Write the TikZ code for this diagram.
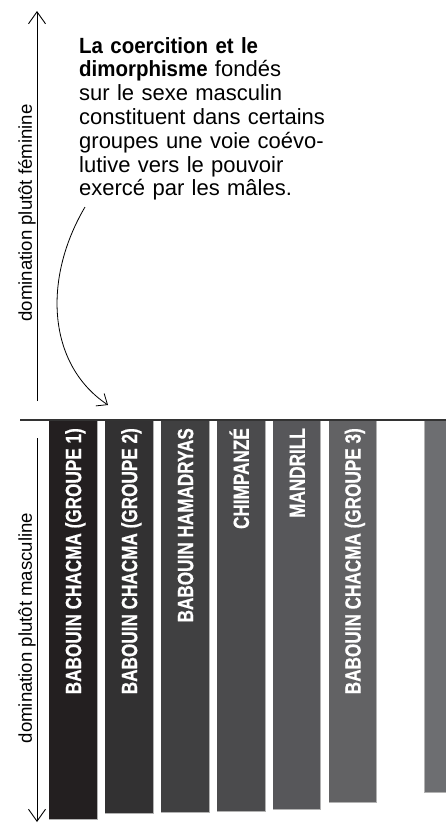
\documentclass[tikz,border=0pt]{standalone}
\usepackage{fontspec}
\setmainfont{Liberation Sans}
\newfontfamily\condbold[FakeStretch=0.78,FakeBold=0.6]{Liberation Sans Bold}
\newfontfamily\parabold[FakeStretch=0.93]{Liberation Sans Bold}
\usetikzlibrary{arrows.meta}
\definecolor{barA}{HTML}{231F20}
\definecolor{barB}{HTML}{323132}
\definecolor{barC}{HTML}{404041}
\definecolor{barD}{HTML}{4B4B4D}
\definecolor{barE}{HTML}{57575A}
\definecolor{barF}{HTML}{626264}
\definecolor{barG}{HTML}{6D6E71}
\tikzset{
  axisarrow/.style={line width=0.9pt, -{Straight Barb[length=12pt,width=17pt,line width=0.9pt]}},
  curvearrow/.style={line width=0.8pt, -{Straight Barb[length=9pt,width=15pt,line width=0.8pt]}},
  barlabel/.style={rotate=90, anchor=base east, inner sep=0pt, text=white,
    font=\condbold\fontsize{22}{22}\selectfont},
  axislabel/.style={rotate=90, inner sep=0pt, font=\fontsize{18.6}{20}\selectfont},
}
\begin{document}
\begin{tikzpicture}[x=1pt,y=1pt]
\useasboundingbox (0,0) rectangle (446,-823);
% axes
\coordinate (uA) at (37,-401);
\coordinate (uB) at (37,-11);
\coordinate (lA) at (37,-438);
\coordinate (lB) at (37,-822);
\draw[axisarrow] (uA) -- (uB);
\draw[axisarrow] (lA) -- (lB);
\node[axislabel] (fem) at (27,-213) {domination plutôt féminine};
\node[axislabel] (masc) at (27,-628) {domination plutôt masculine};
% paragraph
\node[anchor=base west, inner sep=0pt, text width=330pt, align=left,
  font=\fontsize{22}{23.8}\selectfont] (para) at (79,-53)
  {{\parabold La coercition et le\\ dimorphisme} fondés\\ sur le sexe masculin\\ constituent dans certains\\ groupes une voie coévo-\\ lutive vers le pouvoir\\ exercé par les mâles.};
% curved arrow
\coordinate (cA) at (85,-207);
\coordinate (cB) at (108,-405);
\draw[curvearrow] (cA) .. controls (42,-280) and (48,-365) .. (cB);
% bars
\fill[barA] (49.3,-421) rectangle (97,-819);
\fill[barB] (105.3,-421) rectangle (153,-813);
\fill[barC] (161.3,-421) rectangle (209,-812.7);
\fill[barD] (217,-421) rectangle (265,-811);
\fill[barE] (273,-421) rectangle (320.7,-809);
\fill[barF] (328.7,-421) rectangle (376.7,-802);
\fill[barG] (424.7,-421) rectangle (446,-792);
\draw[black!30, line width=0.5pt] (97,-421) -- (97,-819) -- (49.3,-819);
\draw[black!30, line width=0.5pt] (153,-421) -- (153,-813) -- (105.3,-813);
\draw[black!30, line width=0.5pt] (209,-421) -- (209,-812.7) -- (161.3,-812.7);
\draw[black!30, line width=0.5pt] (265,-421) -- (265,-811) -- (217,-811);
\draw[black!30, line width=0.5pt] (320.7,-421) -- (320.7,-809) -- (273,-809);
\draw[black!30, line width=0.5pt] (376.7,-421) -- (376.7,-802) -- (328.7,-802);
\draw[black!30, line width=0.5pt] (424.7,-421) -- (424.7,-792) -- (446,-792);
% baseline
\coordinate (bL) at (20,-420);
\coordinate (bR) at (446,-420);
\draw[line width=1.4pt, black!80] (bL) -- (bR);
% bar labels
\node[barlabel] (l1) at (81.1,-428) {BABOUIN CHACMA (GROUPE 1)};
\node[barlabel] (l2) at (137.1,-428) {BABOUIN CHACMA (GROUPE 2)};
\node[barlabel] (l3) at (193.1,-428) {BABOUIN HAMADRYAS};
\node[barlabel] (l4) at (248.9,-428) {CHIMPANZÉ};
\node[barlabel] (l5) at (304.8,-428) {MANDRILL};
\node[barlabel] (l6) at (360.6,-428) {BABOUIN CHACMA (GROUPE 3)};
\end{tikzpicture}
\end{document}
